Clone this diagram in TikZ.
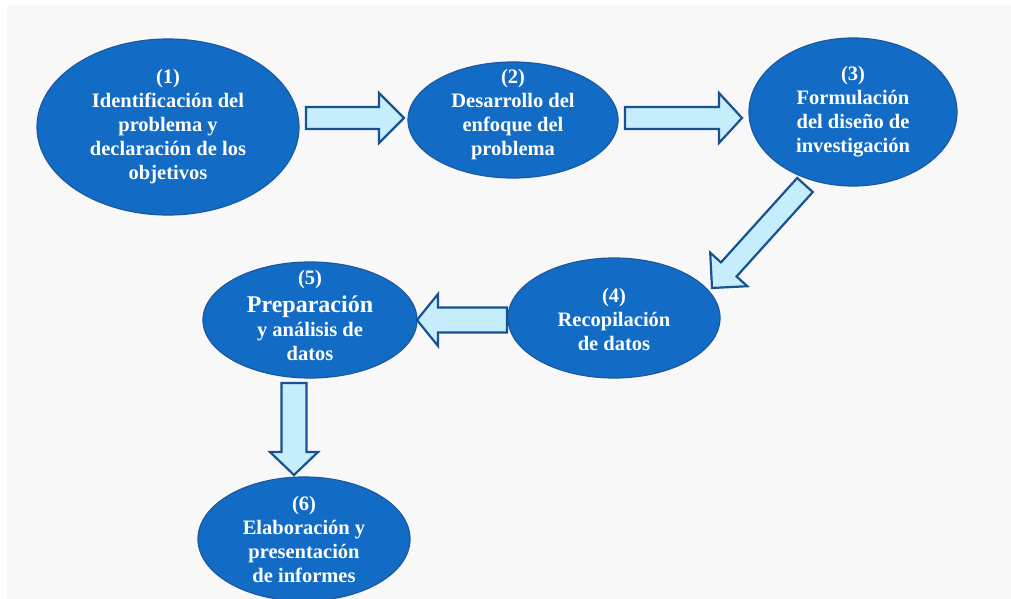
\documentclass[tikz,border=0pt]{standalone}
\usepackage{fontspec}
\setmainfont{Liberation Serif}
\usetikzlibrary{shapes.geometric,calc}
\definecolor{ellfill}{RGB}{18,108,198}
\definecolor{elldraw}{RGB}{26,88,160}
\definecolor{arrfill}{RGB}{198,237,251}
\definecolor{arrdraw}{RGB}{24,82,145}
\definecolor{panel}{RGB}{248,248,248}
\newcommand{\blockarr}[6]{%
  \path ($(#2)!#6!(#1)$) coordinate (#3h);
  \draw[barrow] ($(#1)!#4!90:(#2)$) -- ($(#3h)!#4!90:(#2)$) -- ($(#3h)!#5!90:(#2)$) -- (#2)
    -- ($(#3h)!#5!-90:(#2)$) -- ($(#3h)!#4!-90:(#2)$) -- ($(#1)!#4!-90:(#2)$) -- cycle;}
\begin{document}
\begin{tikzpicture}[x=1pt,y=-1pt,
  ell/.style={ellipse, fill=ellfill, draw=elldraw, line width=1.2pt, inner sep=0pt},
  txt/.style={text=white, font=\bfseries\fontsize{20.5}{24}\selectfont, align=center, inner sep=0pt},
  barrow/.style={fill=arrfill, draw=arrdraw, line width=2.2pt, line join=miter}]
\useasboundingbox (0,0) rectangle (1011,599);
\fill[white] (0,0) rectangle (1011,599);
\fill[panel] (7,5) rectangle (1011,599);

\node[ell, minimum width=262pt, minimum height=176pt] (e1) at (168,127) {};
\node[ell, minimum width=210pt, minimum height=116pt] (e2) at (513,120) {};
\node[ell, minimum width=208pt, minimum height=148pt] (e3) at (853,112) {};
\node[ell, minimum width=212pt, minimum height=120pt] (e4) at (614,318) {};
\node[ell, minimum width=214pt, minimum height=116pt] (e5) at (310,320) {};
\node[ell, minimum width=212pt, minimum height=124pt] (e6) at (304,539) {};

\node[txt] (t1) at (e1.center) {(1)\\Identificación del\\problema y\\declaración de los\\objetivos};
\node[txt] (t2) at (513,115) {(2)\\Desarrollo del\\enfoque del\\problema};
\node[txt] (t3) at (853,112) {(3)\\Formulación\\del diseño de\\investigación};
\node[txt] (t4) at (614,319) {(4)\\Recopilación\\de datos};
\node[txt] (t5) at (310,315) {(5)\\[4pt]{\fontsize{24}{24}\selectfont Preparación}\\y análisis de\\datos};
\node[txt] (t6) at (304,539) {(6)\\Elaboración y\\presentación\\de informes};

\coordinate (a1s) at (306,118); \coordinate (a1e) at (404,118);
\coordinate (a2s) at (625,118); \coordinate (a2e) at (742,118);
\coordinate (a3s) at (805,185); \coordinate (a3e) at (712,288);
\coordinate (a4s) at (507,320); \coordinate (a4e) at (417,320);
\coordinate (a5s) at (294,383); \coordinate (a5e) at (294,475);

\blockarr{a1s}{a1e}{a1}{11pt}{25pt}{25pt}
\blockarr{a2s}{a2e}{a2}{11pt}{25pt}{23pt}
\blockarr{a3s}{a3e}{a3}{10.5pt}{25pt}{25pt}
\blockarr{a4s}{a4e}{a4}{12.5pt}{26pt}{21pt}
\blockarr{a5s}{a5e}{a5}{12.5pt}{24pt}{23pt}
\end{tikzpicture}
\end{document}
